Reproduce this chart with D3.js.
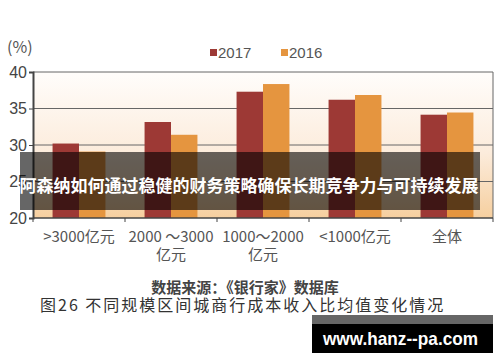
<!DOCTYPE html>
<html lang="zh">
<head>
<meta charset="utf-8">
<title>城商行成本收入比</title>
<script src="https://d3js.org/d3.v7.min.js"></script>
<style>
  body { margin: 0; background: #fff; }
  svg { display: block; font-family: "Noto Sans CJK SC", "Noto Sans", sans-serif; }
  .tick text { fill: #444; }
</style>
</head>
<body>
<div id="chart"></div>
<script>
// data
const categories = [">3000亿元", "2000 ～3000|亿元", "1000～2000|亿元", "<1000亿元", "全体"];
const seriesNames = ["2017", "2016"];
const values2017 = [30.2, 33.15, 37.3, 36.2, 34.15];
const values2016 = [29.1, 31.4, 38.35, 36.85, 34.45];
const yTicks = [20, 25, 30, 35, 40];
const colors = ["#9d3935", "#e5953f"];

const W = 500, H = 362;
const plot = { left: 33, right: 493, top: 72, bottom: 218 };

const svg = d3.select("#chart").append("svg")
  .attr("width", W).attr("height", H);

const defs = svg.append("defs");
const grad = defs.append("linearGradient").attr("id", "bg")
  .attr("x1", 0).attr("y1", 0).attr("x2", 0).attr("y2", 1);
grad.append("stop").attr("offset", "0%").attr("stop-color", "#fffdfb");
grad.append("stop").attr("offset", "55%").attr("stop-color", "#fcecdc");
grad.append("stop").attr("offset", "100%").attr("stop-color", "#f6cf9f");

const x0 = d3.scaleBand().domain(categories).range([plot.left, plot.right]);
const x1 = d3.scaleBand().domain(seriesNames).range([0, x0.bandwidth()]).paddingOuter(0.74);
const y = d3.scaleLinear().domain([20, 40]).range([plot.bottom, plot.top]);

// background
svg.append("rect")
  .attr("x", plot.left).attr("y", plot.top)
  .attr("width", plot.right - plot.left).attr("height", plot.bottom - plot.top)
  .attr("fill", "url(#bg)");

// grid
svg.append("g").selectAll("line").data(yTicks.slice(1)).join("line")
  .attr("x1", plot.left).attr("x2", plot.right)
  .attr("y1", d => y(d)).attr("y2", d => y(d))
  .attr("stroke", "#666").attr("stroke-width", 1);
svg.append("line")
  .attr("x1", plot.right).attr("x2", plot.right)
  .attr("y1", plot.top).attr("y2", plot.bottom)
  .attr("stroke", "#666");

// bars
const rows = categories.map((c, i) => ({ cat: c, vals: [values2017[i], values2016[i]] }));
svg.append("g").selectAll("g").data(rows).join("g")
  .attr("transform", d => "translate(" + x0(d.cat) + ",0)")
  .selectAll("rect").data(d => d.vals.map((v, j) => ({ key: seriesNames[j], v: v, j: j })))
  .join("rect")
  .attr("x", d => x1(d.key))
  .attr("width", x1.bandwidth())
  .attr("y", d => y(d.v))
  .attr("height", d => y(20) - y(d.v))
  .attr("fill", d => colors[d.j]);

// axes
const yAxis = d3.axisLeft(y).tickValues(yTicks).tickSize(4).tickPadding(2);
const gy = svg.append("g").attr("transform", "translate(" + plot.left + ",0)").call(yAxis);
gy.select(".domain").attr("stroke", "#444").attr("stroke-width", 2);
gy.selectAll(".tick line").attr("stroke", "#444");
gy.selectAll(".tick text").attr("font-size", 16).attr("font-family", "Liberation Sans, sans-serif")
  .attr("fill", "#555");

const gx = svg.append("g").attr("transform", "translate(0," + plot.bottom + ")");
gx.append("line").attr("x1", plot.left).attr("x2", plot.right)
  .attr("stroke", "#444").attr("stroke-width", 1.5);
const bounds = categories.map(c => x0(c)).concat([plot.right]);
gx.selectAll(".bt").data(bounds).join("line")
  .attr("x1", d => d).attr("x2", d => d).attr("y1", 0).attr("y2", 4)
  .attr("stroke", "#444");
gx.selectAll(".lab").data(categories).join("text")
  .attr("text-anchor", "middle")
  .attr("x", d => x0(d) + x0.bandwidth() / 2)
  .attr("font-size", 15).attr("fill", "#555")
  .selectAll("tspan").data(d => d.split("|")).join("tspan")
  .attr("x", function() { return d3.select(this.parentNode).attr("x"); })
  .attr("y", (d, i) => 24 + i * 18)
  .text(d => d);

// unit
svg.append("text").attr("x", 7).attr("y", 53).attr("font-size", 16).attr("fill", "#555").text("(%)");

// legend
const leg = svg.append("g").selectAll("g").data(seriesNames).join("g")
  .attr("transform", (d, i) => "translate(" + (210 + i * 71) + ",48)");
leg.append("rect").attr("width", 7).attr("height", 7).attr("y", 1).attr("fill", (d, i) => colors[i]);
leg.append("text").attr("x", 8).attr("y", 10).attr("font-size", 15).attr("fill", "#555")
  .attr("font-family", "Liberation Sans, sans-serif").text(d => d);

// source + caption
svg.append("text").attr("x", 245).attr("y", 293).attr("text-anchor", "middle")
  .attr("font-size", 15).attr("font-weight", "bold").attr("fill", "#444")
  .text("数据来源：《银行家》数据库");
svg.append("text").attr("x", 40).attr("y", 311)
  .attr("font-size", 16).attr("fill", "#333").attr("letter-spacing", 2)
  .text("图26  不同规模区间城商行成本收入比均值变化情况");

// overlay banner
svg.append("rect").attr("x", 20).attr("y", 152).attr("width", 460).attr("height", 58)
  .attr("fill", "#000").attr("fill-opacity", 0.6);
svg.append("text").attr("x", 249).attr("y", 192).attr("text-anchor", "middle")
  .attr("font-size", 17).attr("font-weight", "bold").attr("fill", "#fff")
  .text("阿森纳如何通过稳健的财务策略确保长期竞争力与可持续发展");

// watermark
svg.append("rect").attr("x", 312).attr("y", 315).attr("width", 181).attr("height", 10).attr("fill", "#666");
svg.append("rect").attr("x", 312).attr("y", 324).attr("width", 181).attr("height", 29).attr("fill", "#000");
svg.append("text").attr("x", 323).attr("y", 345)
  .attr("font-size", 19).attr("font-weight", "bold").attr("fill", "#fff")
  .attr("font-family", "Liberation Sans, sans-serif")
  .attr("textLength", 155).attr("lengthAdjust", "spacingAndGlyphs")
  .text("www.hanz--pa.com");
</script>
</body>
</html>
